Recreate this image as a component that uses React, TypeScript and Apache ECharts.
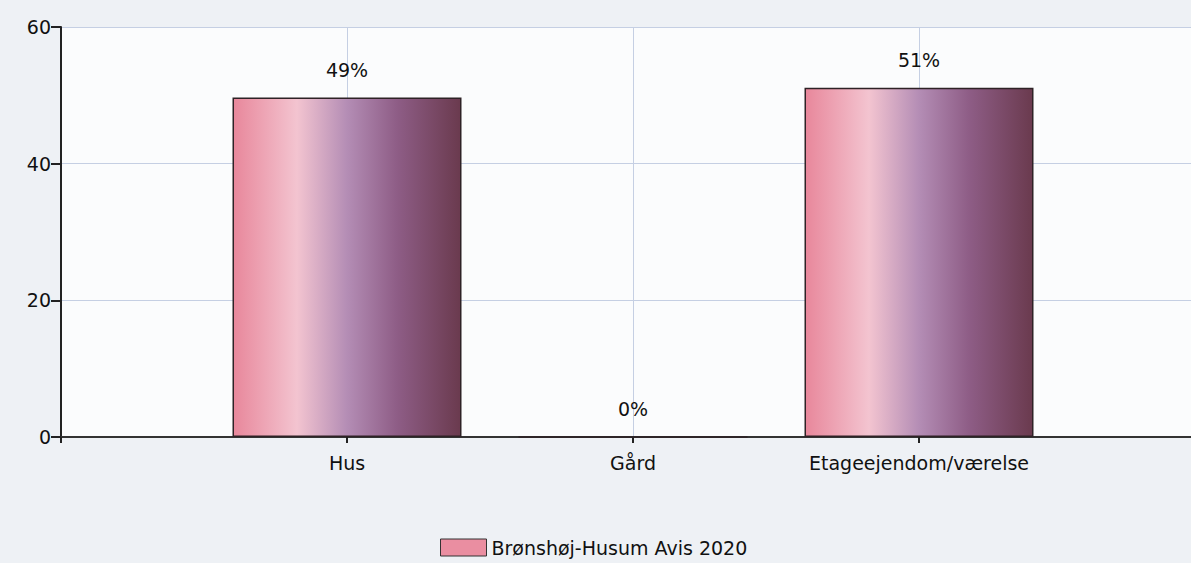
import React, { useEffect, useRef } from "react";
import * as echarts from "echarts";

const categories = ["Hus", "Gård", "Etageejendom/værelse"];
const values = [49.7, 0, 51.1];
const valueLabels = ["49%", "0%", "51%"];
const seriesName = "Brønshøj-Husum Avis 2020";
const yTicks = [0, 20, 40, 60];

export default function App() {
  const ref = useRef<HTMLDivElement>(null);
  useEffect(() => {
    const chart = echarts.init(ref.current!, null, { renderer: "svg" });
    const cats = ["", ...categories, ""];
    const data: any[] = [
      "-",
      ...values.map((v, i) => ({ value: v, label: { formatter: valueLabels[i] } })),
      "-",
    ];
    const font = "'DejaVu Sans', Tahoma, sans-serif";
    chart.setOption({
      animation: false,
      backgroundColor: "#eef1f5",
      textStyle: { fontFamily: font },
      grid: {
        left: 61,
        top: 27,
        width: 1144,
        height: 410,
        show: true,
        backgroundColor: "#fbfcfd",
        borderWidth: 0,
      },
      legend: {
        bottom: 1,
        left: 435,
        itemWidth: 46,
        itemHeight: 17,
        itemGap: 8,
        textStyle: { fontSize: 19, color: "#111", fontFamily: font },
        data: [
          {
            name: seriesName,
            icon: "rect",
            itemStyle: { color: "#ea8ea1", borderColor: "#333", borderWidth: 1 },
          },
        ],
      },
      xAxis: {
        type: "category",
        data: cats,
        boundaryGap: false,
        axisLine: { lineStyle: { color: "#333", width: 2 } },
        axisTick: { show: true, length: 6, lineStyle: { color: "#222", width: 2 } },
        axisLabel: { fontSize: 19, color: "#111", margin: 16, fontFamily: font },
        splitLine: { show: true, lineStyle: { color: "#c5cfe3", width: 1 } },
      },
      yAxis: {
        type: "value",
        min: yTicks[0],
        max: yTicks[yTicks.length - 1],
        interval: 20,
        axisLine: { show: true, lineStyle: { color: "#222", width: 2 } },
        axisTick: { show: true, length: 10, lineStyle: { color: "#222", width: 2 } },
        axisLabel: { fontSize: 19, color: "#111", margin: 10, fontFamily: font },
        splitLine: { show: true, lineStyle: { color: "#c5cfe3", width: 1 } },
      },
      series: [
        {
          name: seriesName,
          type: "bar",
          data,
          barWidth: 229,
          itemStyle: {
            borderColor: "#2e2226",
            borderWidth: 1.5,
            color: new echarts.graphic.LinearGradient(0, 0, 1, 0, [
              { offset: 0, color: "#e8879b" },
              { offset: 0.28, color: "#f3c4d0" },
              { offset: 0.5, color: "#b48db5" },
              { offset: 0.72, color: "#8e5d86" },
              { offset: 1, color: "#6a3a4e" },
            ]),
          },
          label: {
            show: true,
            position: "top",
            distance: 18,
            fontSize: 19,
            color: "#111",
            fontFamily: font,
          },
        },
      ],
    });
    return () => chart.dispose();
  }, []);
  return (
    <div
      style={{
        position: "absolute",
        left: 0,
        top: 0,
        width: 1191,
        height: 563,
        overflow: "hidden",
      }}
    >
      <div ref={ref} style={{ width: 1220, height: 563 }} />
    </div>
  );
}
